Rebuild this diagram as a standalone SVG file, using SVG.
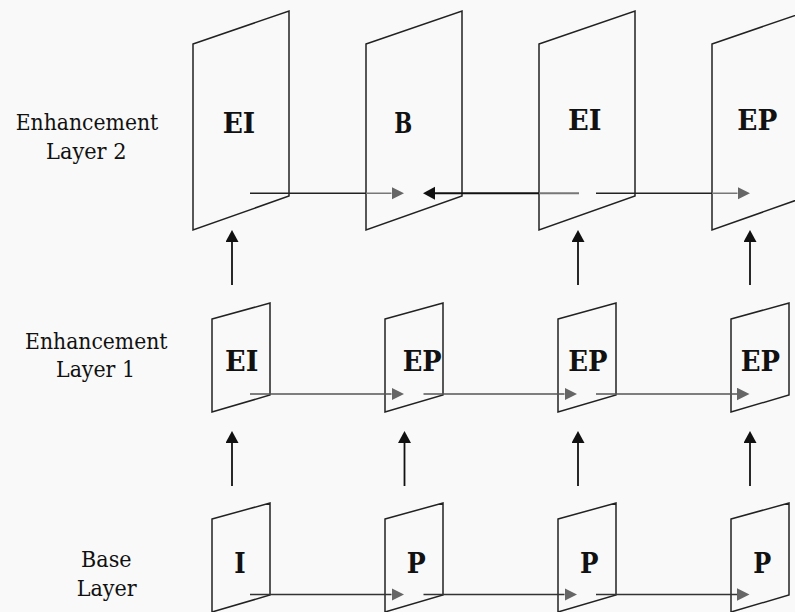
<svg xmlns="http://www.w3.org/2000/svg" width="795" height="612" viewBox="0 0 795 612">
<style>
.frame{fill:none;stroke:#222;stroke-width:1.5;stroke-linejoin:miter}
.lbl{font-family:'DejaVu Serif',serif;font-size:23px;fill:#111;text-anchor:middle}
.pic{font-family:'DejaVu Serif',serif;font-size:27px;font-weight:bold;fill:#111}
.up{stroke:#111;stroke-width:1.8;marker-end:url(#ahB)}
.fwd{stroke-width:1.5;marker-end:url(#ahG)}
</style>
<defs>
<marker id="ahG" markerUnits="userSpaceOnUse" markerWidth="13" markerHeight="13" refX="0" refY="6.25" orient="auto"><path d="M0,0 L12.5,6.25 L0,12.5 z" fill="#666"/></marker>
<marker id="ahB" markerUnits="userSpaceOnUse" markerWidth="13" markerHeight="14" refX="0" refY="6.5" orient="auto"><path d="M0,0 L12,6.5 L0,13 z" fill="#111"/></marker>
<linearGradient id="gA1" gradientUnits="userSpaceOnUse" x1="250" y1="0" x2="392" y2="0"><stop offset="0.82" stop-color="#222"/><stop offset="0.82" stop-color="#777"/></linearGradient>
<linearGradient id="gA3" gradientUnits="userSpaceOnUse" x1="596" y1="0" x2="738" y2="0"><stop offset="0.82" stop-color="#222"/><stop offset="0.82" stop-color="#777"/></linearGradient>
<linearGradient id="gA2" gradientUnits="userSpaceOnUse" x1="435" y1="0" x2="579" y2="0"><stop offset="0.72" stop-color="#111"/><stop offset="0.72" stop-color="#777"/></linearGradient>
</defs>
<rect width="795" height="612" fill="#f9f9f9"/>

<g id="layer-labels">
<text class="lbl" x="87" y="129.5" textLength="142.5" lengthAdjust="spacingAndGlyphs">Enhancement</text>
<text class="lbl" x="86.3" y="158.5" textLength="80.5" lengthAdjust="spacingAndGlyphs">Layer 2</text>
<text class="lbl" x="96.3" y="348.5" textLength="142.5" lengthAdjust="spacingAndGlyphs">Enhancement</text>
<text class="lbl" x="95.5" y="377" textLength="79" lengthAdjust="spacingAndGlyphs">Layer 1</text>
<text class="lbl" x="106.3" y="567" textLength="50.5" lengthAdjust="spacingAndGlyphs">Base</text>
<text class="lbl" x="106.7" y="596" textLength="60" lengthAdjust="spacingAndGlyphs">Layer</text>
</g>

<g id="el2-ei1"><polygon class="frame" points="193,44 289,11 289,196 193,230"/><text class="pic" x="222.7" y="133" textLength="32.5" lengthAdjust="spacingAndGlyphs">EI</text></g>
<g id="el2-b"><polygon class="frame" points="366,44 462,11 462,196 366,230"/><text class="pic" x="394.3" y="133" textLength="18" lengthAdjust="spacingAndGlyphs">B</text></g>
<g id="el2-ei3"><polygon class="frame" points="539,44 635,11 635,196 539,230"/><text class="pic" x="568" y="129.5" textLength="33.5" lengthAdjust="spacingAndGlyphs">EI</text></g>
<g id="el2-ep4"><polygon class="frame" points="712,44 808,11 808,196 712,230"/><text class="pic" x="737.3" y="129.5" textLength="40" lengthAdjust="spacingAndGlyphs">EP</text></g>

<g id="el1-ei1"><polygon class="frame" points="212,319 270,303 270,395 212,412"/><text class="pic" x="225" y="371" textLength="33.3" lengthAdjust="spacingAndGlyphs">EI</text></g>
<g id="el1-ep2"><polygon class="frame" points="385,319 443,303 443,395 385,412"/><text class="pic" x="402.7" y="371" textLength="39" lengthAdjust="spacingAndGlyphs">EP</text></g>
<g id="el1-ep3"><polygon class="frame" points="558,319 616,303 616,395 558,412"/><text class="pic" x="568.3" y="371" textLength="39.3" lengthAdjust="spacingAndGlyphs">EP</text></g>
<g id="el1-ep4"><polygon class="frame" points="731,319 789,303 789,395 731,412"/><text class="pic" x="740.7" y="371" textLength="39.3" lengthAdjust="spacingAndGlyphs">EP</text></g>

<g id="bl-i1"><polygon class="frame" points="212,519 270,503 270,595 212,612"/><text class="pic" x="234.3" y="572.5" textLength="11.4" lengthAdjust="spacingAndGlyphs">I</text></g>
<g id="bl-p2"><polygon class="frame" points="385,519 443,503 443,595 385,612"/><text class="pic" x="406.7" y="572.5" textLength="19" lengthAdjust="spacingAndGlyphs">P</text></g>
<g id="bl-p3"><polygon class="frame" points="558,519 616,503 616,595 558,612"/><text class="pic" x="580" y="572.5" textLength="18.5" lengthAdjust="spacingAndGlyphs">P</text></g>
<g id="bl-p4"><polygon class="frame" points="731,519 789,503 789,595 731,612"/><text class="pic" x="753.3" y="572.5" textLength="18" lengthAdjust="spacingAndGlyphs">P</text></g>

<g id="connectors">
<line class="fwd" x1="250" y1="193.3" x2="391.5" y2="193.3" stroke="url(#gA1)"/>
<line x1="579" y1="193.3" x2="435" y2="193.3" stroke="url(#gA2)" stroke-width="2" marker-end="url(#ahB)"/>
<line class="fwd" x1="596" y1="193.3" x2="737.5" y2="193.3" stroke="url(#gA3)"/>

<line class="fwd" x1="250" y1="394" x2="391.5" y2="394" stroke="#555"/>
<line class="fwd" x1="423.5" y1="394" x2="564.5" y2="394" stroke="#555"/>
<line class="fwd" x1="596" y1="394" x2="737" y2="394" stroke="#555"/>

<line class="fwd" x1="250" y1="594.5" x2="391.5" y2="594.5" stroke="#333"/>
<line class="fwd" x1="423.5" y1="594.5" x2="564.5" y2="594.5" stroke="#333"/>
<line class="fwd" x1="596" y1="594.5" x2="737" y2="594.5" stroke="#333"/>

<line class="up" x1="232" y1="285" x2="232" y2="242"/>
<line class="up" x1="578" y1="285" x2="578" y2="242"/>
<line class="up" x1="750" y1="285" x2="750" y2="242"/>

<line class="up" x1="232" y1="486" x2="232" y2="443"/>
<line class="up" x1="404.5" y1="486" x2="404.5" y2="443"/>
<line class="up" x1="578" y1="486" x2="578" y2="443"/>
<line class="up" x1="750" y1="486" x2="750" y2="443"/>
</g>
</svg>
